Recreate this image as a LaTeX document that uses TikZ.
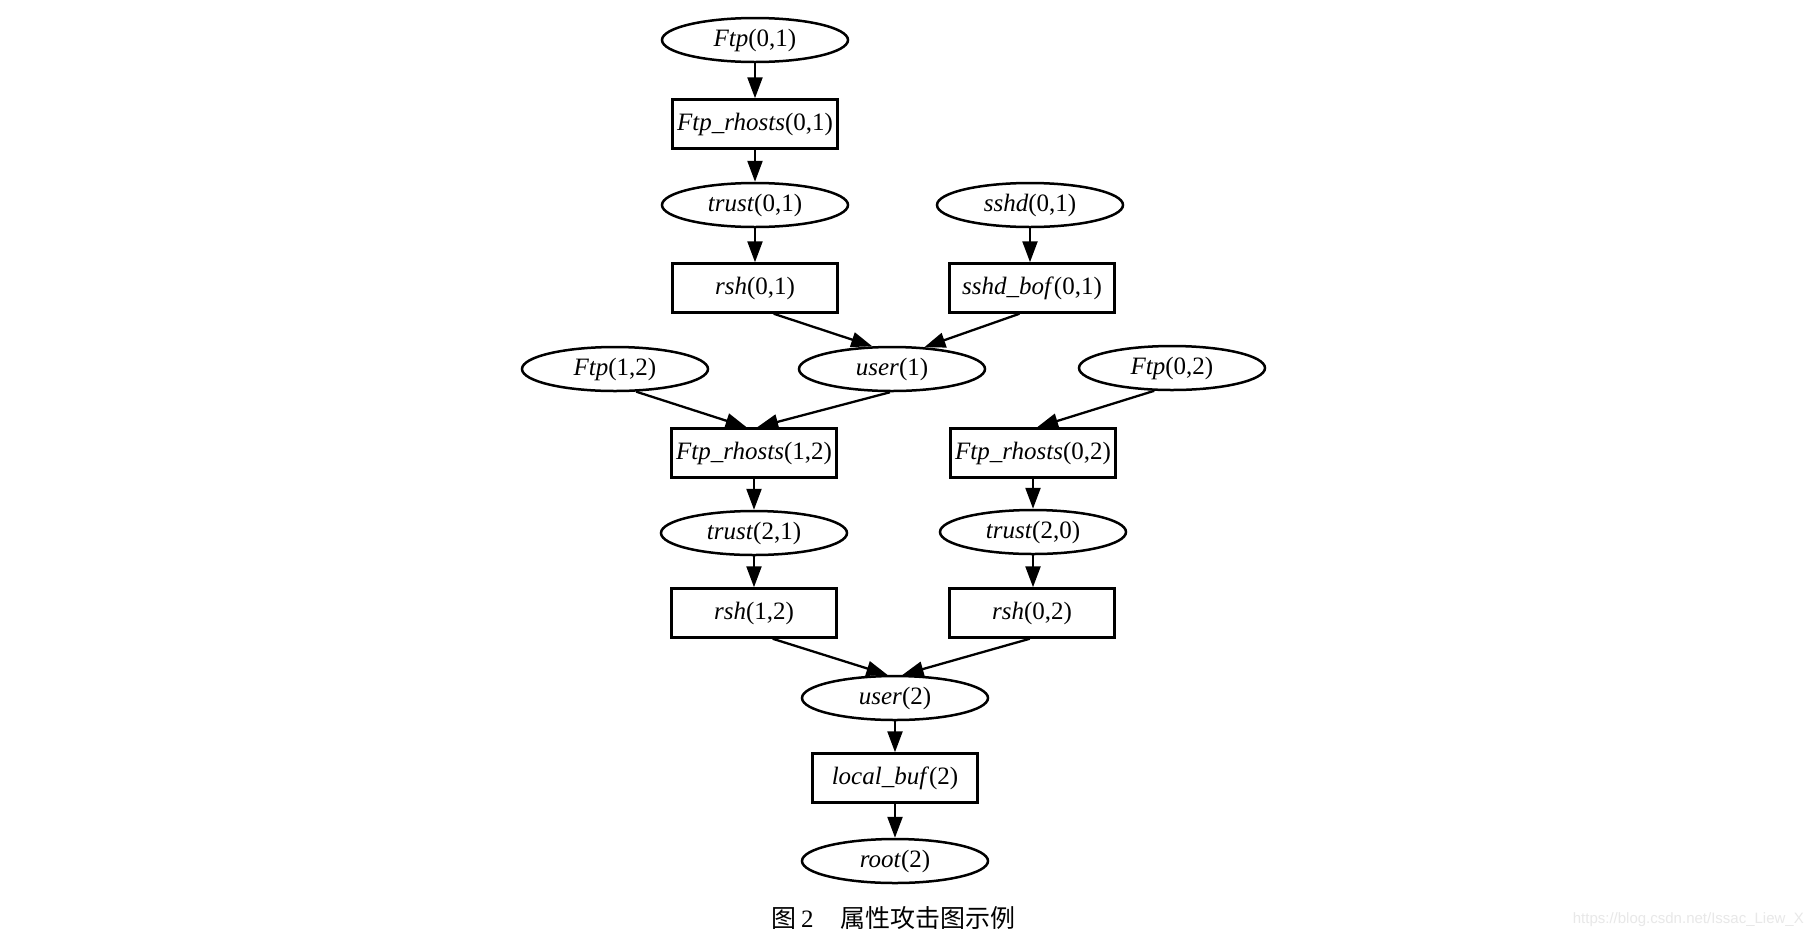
\documentclass[tikz,border=0pt]{standalone}
\usepackage{fontspec}
\setmainfont{Liberation Serif}
\newfontfamily\cjk{Noto Sans CJK SC}
\newfontfamily\wmfont{Liberation Sans}
\usetikzlibrary{shapes.geometric,arrows.meta}
\begin{document}
\begin{tikzpicture}[x=1pt,y=1pt,
  el/.style={ellipse,draw,line width=2.5pt,minimum width=186pt,minimum height=44pt,inner sep=0pt,font=\fontsize{25}{25}\selectfont},
  bx/.style={rectangle,draw,line width=2.5pt,minimum width=165pt,minimum height=49pt,inner sep=0pt,font=\fontsize{25}{25}\selectfont},
  ar/.style={line width=2.3pt,-{Triangle[length=21pt,width=15pt]}}]
\useasboundingbox[fill=white] (0,0) rectangle (1814,-938);

\node[el] (ftp01) at (755,-40) {\textit{Ftp}(0,1)};
\node[bx] (ftprh01) at (755,-124) {\textit{Ftp\_rhosts}(0,1)};
\node[el] (trust01) at (755,-205) {\textit{trust}(0,1)};
\node[el] (sshd01) at (1030,-205) {\textit{sshd}(0,1)};
\node[bx] (rsh01) at (755,-288) {\textit{rsh}(0,1)};
\node[bx] (sshdbof) at (1032,-288) {\textit{sshd\_bof}(0,1)};
\node[el] (ftp12) at (615,-369) {\textit{Ftp}(1,2)};
\node[el] (user1) at (892,-369) {\textit{user}(1)};
\node[el] (ftp02) at (1172,-368) {\textit{Ftp}(0,2)};
\node[bx] (ftprh12) at (754,-453) {\textit{Ftp\_rhosts}(1,2)};
\node[bx] (ftprh02) at (1033,-453) {\textit{Ftp\_rhosts}(0,2)};
\node[el] (trust21) at (754,-533) {\textit{trust}(2,1)};
\node[el] (trust20) at (1033,-532) {\textit{trust}(2,0)};
\node[bx] (rsh12) at (754,-613) {\textit{rsh}(1,2)};
\node[bx] (rsh02) at (1032,-613) {\textit{rsh}(0,2)};
\node[el] (user2) at (895,-698) {\textit{user}(2)};
\node[bx] (localbuf) at (895,-778) {\textit{local\_buf}(2)};
\node[el] (root2) at (895,-861) {\textit{root}(2)};

\draw[ar] (ftp01.south) -- (ftprh01.north);
\draw[ar] (ftprh01.south) -- (trust01.north);
\draw[ar] (trust01.south) -- (rsh01.north);
\draw[ar] (sshd01.south) -- (sshd01.south |- sshdbof.north);
\draw[ar] (rsh01.-54) -- (user1.131);
\draw[ar] (sshdbof.-116) -- (user1.34);
\draw[ar] (ftp12.-47) -- (ftprh12.106);
\draw[ar] (user1.-95) -- (ftprh12.83);
\draw[ar] (ftp02.-128) -- (ftprh02.81);
\draw[ar] (ftprh12.south) -- (trust21.north);
\draw[ar] (ftprh02.south) -- (ftprh02.south |- trust20.north);
\draw[ar] (trust21.south) -- (rsh12.north);
\draw[ar] (trust20.south) -- (trust20.south |- rsh02.north);
\draw[ar] (rsh12.-54) -- (user2.108);
\draw[ar] (rsh02.-95) -- (user2.72);
\draw[ar] (user2.south) -- (localbuf.north);
\draw[ar] (localbuf.south) -- (root2.north);

\node[anchor=west,inner sep=0pt,font=\fontsize{25}{25}\selectfont] (cap) at (771,-918) {{\cjk 图}\hspace{5pt}2\hspace{27pt}{\cjk 属性攻击图示例}};
\node[anchor=east,inner sep=0pt,text=black!9,font=\wmfont\fontsize{15}{15}\selectfont] (wm) at (1804,-920) {https://blog.csdn.net/Issac\_Liew\_X};
\end{tikzpicture}
\end{document}
